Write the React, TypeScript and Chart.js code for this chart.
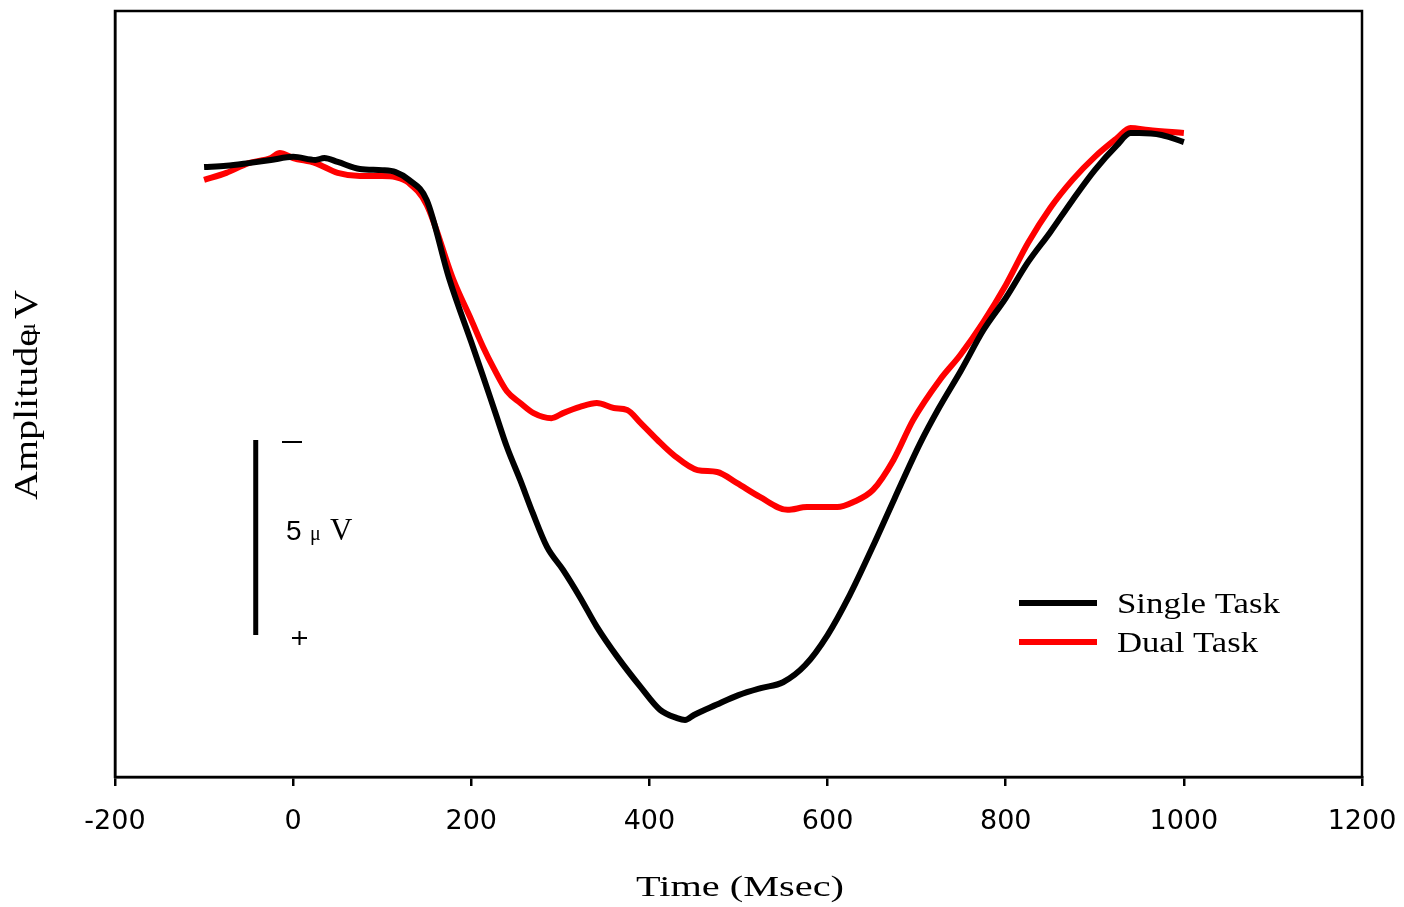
import { useEffect, useRef } from "react";
import { Chart, registerables } from "chart.js";
Chart.register(...registerables);

// Time axis (ms) and amplitude (µV) readings
const singleTimes = [-100, -75, -50, -25, 0, 25, 35, 50, 75, 100, 115, 130, 150, 175, 202, 213, 227, 240, 255, 269, 285, 303, 322, 341, 364, 390, 412, 431, 440, 450, 475, 500, 525, 550, 575, 600, 625, 650, 675, 704, 725, 750, 775, 800, 825, 850, 875, 900, 925, 940, 950, 975, 1000];
const singleTask = [0.0, -0.03, -0.1, -0.18, -0.26, -0.18, -0.23, -0.13, 0.05, 0.08, 0.13, 0.33, 0.85, 2.85, 4.62, 5.35, 6.3, 7.18, 8.03, 8.87, 9.74, 10.33, 11.03, 11.79, 12.56, 13.33, 13.92, 14.13, 14.18, 14.05, 13.79, 13.54, 13.36, 13.21, 12.77, 12.0, 10.97, 9.77, 8.51, 7.08, 6.18, 5.21, 4.18, 3.36, 2.44, 1.67, 0.85, 0.08, -0.56, -0.87, -0.87, -0.82, -0.64];

const dualTimes = [-100, -75, -50, -25, -15, 0, 25, 50, 75, 100, 115, 130, 150, 180, 200, 213, 225, 240, 255, 270, 290, 303, 322, 341, 360, 375, 390, 409, 427, 454, 476, 498, 524, 555, 577, 611, 629, 651, 674, 696, 726, 749, 775, 800, 825, 850, 875, 900, 925, 940, 960, 1000];
const dualTask = [0.33, 0.15, -0.1, -0.23, -0.36, -0.23, -0.1, 0.15, 0.23, 0.23, 0.26, 0.41, 0.97, 2.9, 3.92, 4.6, 5.15, 5.75, 6.05, 6.31, 6.44, 6.31, 6.15, 6.05, 6.18, 6.23, 6.56, 7.0, 7.38, 7.77, 7.82, 8.1, 8.46, 8.79, 8.72, 8.72, 8.59, 8.28, 7.51, 6.49, 5.46, 4.82, 3.97, 3.03, 1.95, 1.05, 0.33, -0.26, -0.74, -1.0, -0.95, -0.87];

const seriesLabels = ["Single Task", "Dual Task"];
const seriesColors = ["#000000", "#ff0000"];
const xTickValues = [-200, 0, 200, 400, 600, 800, 1000, 1200];
const scaleBarTime = -42;
const scaleBarFrom = 7;
const scaleBarTo = 12;

function stretchText(ctx: CanvasRenderingContext2D, text: string, x: number, y: number, font: string, targetW: number) {
  ctx.save();
  ctx.font = font;
  const w = ctx.measureText(text).width;
  ctx.translate(x, y);
  ctx.scale(targetW / w, 1);
  ctx.textAlign = "left";
  ctx.textBaseline = "alphabetic";
  ctx.fillText(text, 0, 0);
  ctx.restore();
}

const decorPlugin = {
  id: "decor",
  afterDraw(chart: any) {
    const { ctx, chartArea } = chart;
    const xs = chart.scales.x;
    const ys = chart.scales.y;
    ctx.save();
    // frame
    ctx.strokeStyle = "#000";
    ctx.lineWidth = 2.5;
    ctx.strokeRect(chartArea.left, chartArea.top, chartArea.right - chartArea.left, chartArea.bottom - chartArea.top);
    ctx.fillStyle = "#000";

    // x title
    stretchText(ctx, "Time (Msec)", 636, 896, "30px 'Liberation Serif'", 208);

    // y title (rotated)
    ctx.save();
    ctx.translate(37, 500);
    ctx.rotate(-Math.PI / 2);
    stretchText(ctx, "Amplitude V", 0, 0, "33px 'Liberation Serif'", 210);
    ctx.font = "24px 'Liberation Serif'";
    ctx.fillText("μ", 164, -2);
    ctx.restore();

    // scale bar
    const bx = xs.getPixelForValue(scaleBarTime);
    const by1 = ys.getPixelForValue(scaleBarFrom);
    const by2 = ys.getPixelForValue(scaleBarTo);
    ctx.lineWidth = 5;
    ctx.beginPath();
    ctx.moveTo(bx, by1);
    ctx.lineTo(bx, by2);
    ctx.stroke();
    ctx.lineWidth = 2;
    ctx.beginPath();
    ctx.moveTo(282, 442);
    ctx.lineTo(302, 442);
    ctx.stroke();
    ctx.beginPath();
    ctx.moveTo(292, 638);
    ctx.lineTo(307, 638);
    ctx.moveTo(299.5, 631);
    ctx.lineTo(299.5, 645);
    ctx.stroke();
    ctx.font = "28px 'Liberation Sans'";
    ctx.textBaseline = "alphabetic";
    ctx.textAlign = "left";
    ctx.fillText("5", 286, 540);
    ctx.font = "20px 'Liberation Serif'";
    ctx.fillText("μ", 310, 540);
    ctx.font = "31px 'Liberation Serif'";
    ctx.fillText("V", 330, 540);

    // legend
    const legendY = [603, 642];
    const legendW = [163, 141];
    seriesLabels.forEach((lab, i) => {
      ctx.strokeStyle = seriesColors[i];
      ctx.lineWidth = 6;
      ctx.beginPath();
      ctx.moveTo(1019, legendY[i]);
      ctx.lineTo(1097, legendY[i]);
      ctx.stroke();
      ctx.fillStyle = "#000";
      stretchText(ctx, lab, 1117, legendY[i] + 10, "30px 'Liberation Serif'", legendW[i]);
    });
    ctx.restore();
  },
};

export default function App() {
  const ref = useRef<HTMLCanvasElement | null>(null);
  useEffect(() => {
    if (!ref.current) return;
    const chart = new Chart(ref.current, {
      type: "line",
      data: {
        datasets: [
          {
            label: seriesLabels[0],
            data: singleTimes.map((t, i) => ({ x: t, y: singleTask[i] })),
            borderColor: seriesColors[0],
            borderWidth: 6,
            pointRadius: 0,
            cubicInterpolationMode: "monotone",
            fill: false,
          },
          {
            label: seriesLabels[1],
            data: dualTimes.map((t, i) => ({ x: t, y: dualTask[i] })),
            borderColor: seriesColors[1],
            borderWidth: 6,
            pointRadius: 0,
            cubicInterpolationMode: "monotone",
            fill: false,
          },
        ],
      },
      options: {
        animation: false,
        responsive: true,
        maintainAspectRatio: false,
        layout: { padding: { left: 0, top: 11, right: 42, bottom: 0 } },
        plugins: { legend: { display: false }, tooltip: { enabled: false } },
        scales: {
          x: {
            type: "linear",
            min: -200,
            max: 1200,
            afterFit: (s: any) => {
              s.height = 130;
              s.paddingLeft = 0;
              s.paddingRight = 0;
            },
            afterBuildTicks: (s: any) => {
              s.ticks = xTickValues.map((v) => ({ value: v }));
            },
            ticks: {
              color: "#000",
              font: { family: "'DejaVu Sans'", size: 27 },
              padding: 20,
              maxRotation: 0,
              autoSkip: false,
              callback: (v: any) => String(v),
            },
            grid: { display: true, drawOnChartArea: false, drawTicks: true, tickLength: 9, color: "#000", lineWidth: 2.5 },
            border: { display: true, color: "#000", width: 2.5 },
          },
          y: {
            type: "linear",
            min: -4,
            max: 15.64,
            reverse: true,
            afterFit: (s: any) => {
              s.width = 115;
              s.paddingTop = 0;
              s.paddingBottom = 0;
            },
            ticks: { display: false },
            grid: { display: false },
            border: { display: true, color: "#000", width: 2.5 },
          },
        },
      },
      plugins: [decorPlugin],
    });
    return () => chart.destroy();
  }, []);
  return (
    <div style={{ position: "absolute", left: 0, top: 0, width: 1404, height: 907, background: "#fff" }}>
      <canvas ref={ref} />
    </div>
  );
}
